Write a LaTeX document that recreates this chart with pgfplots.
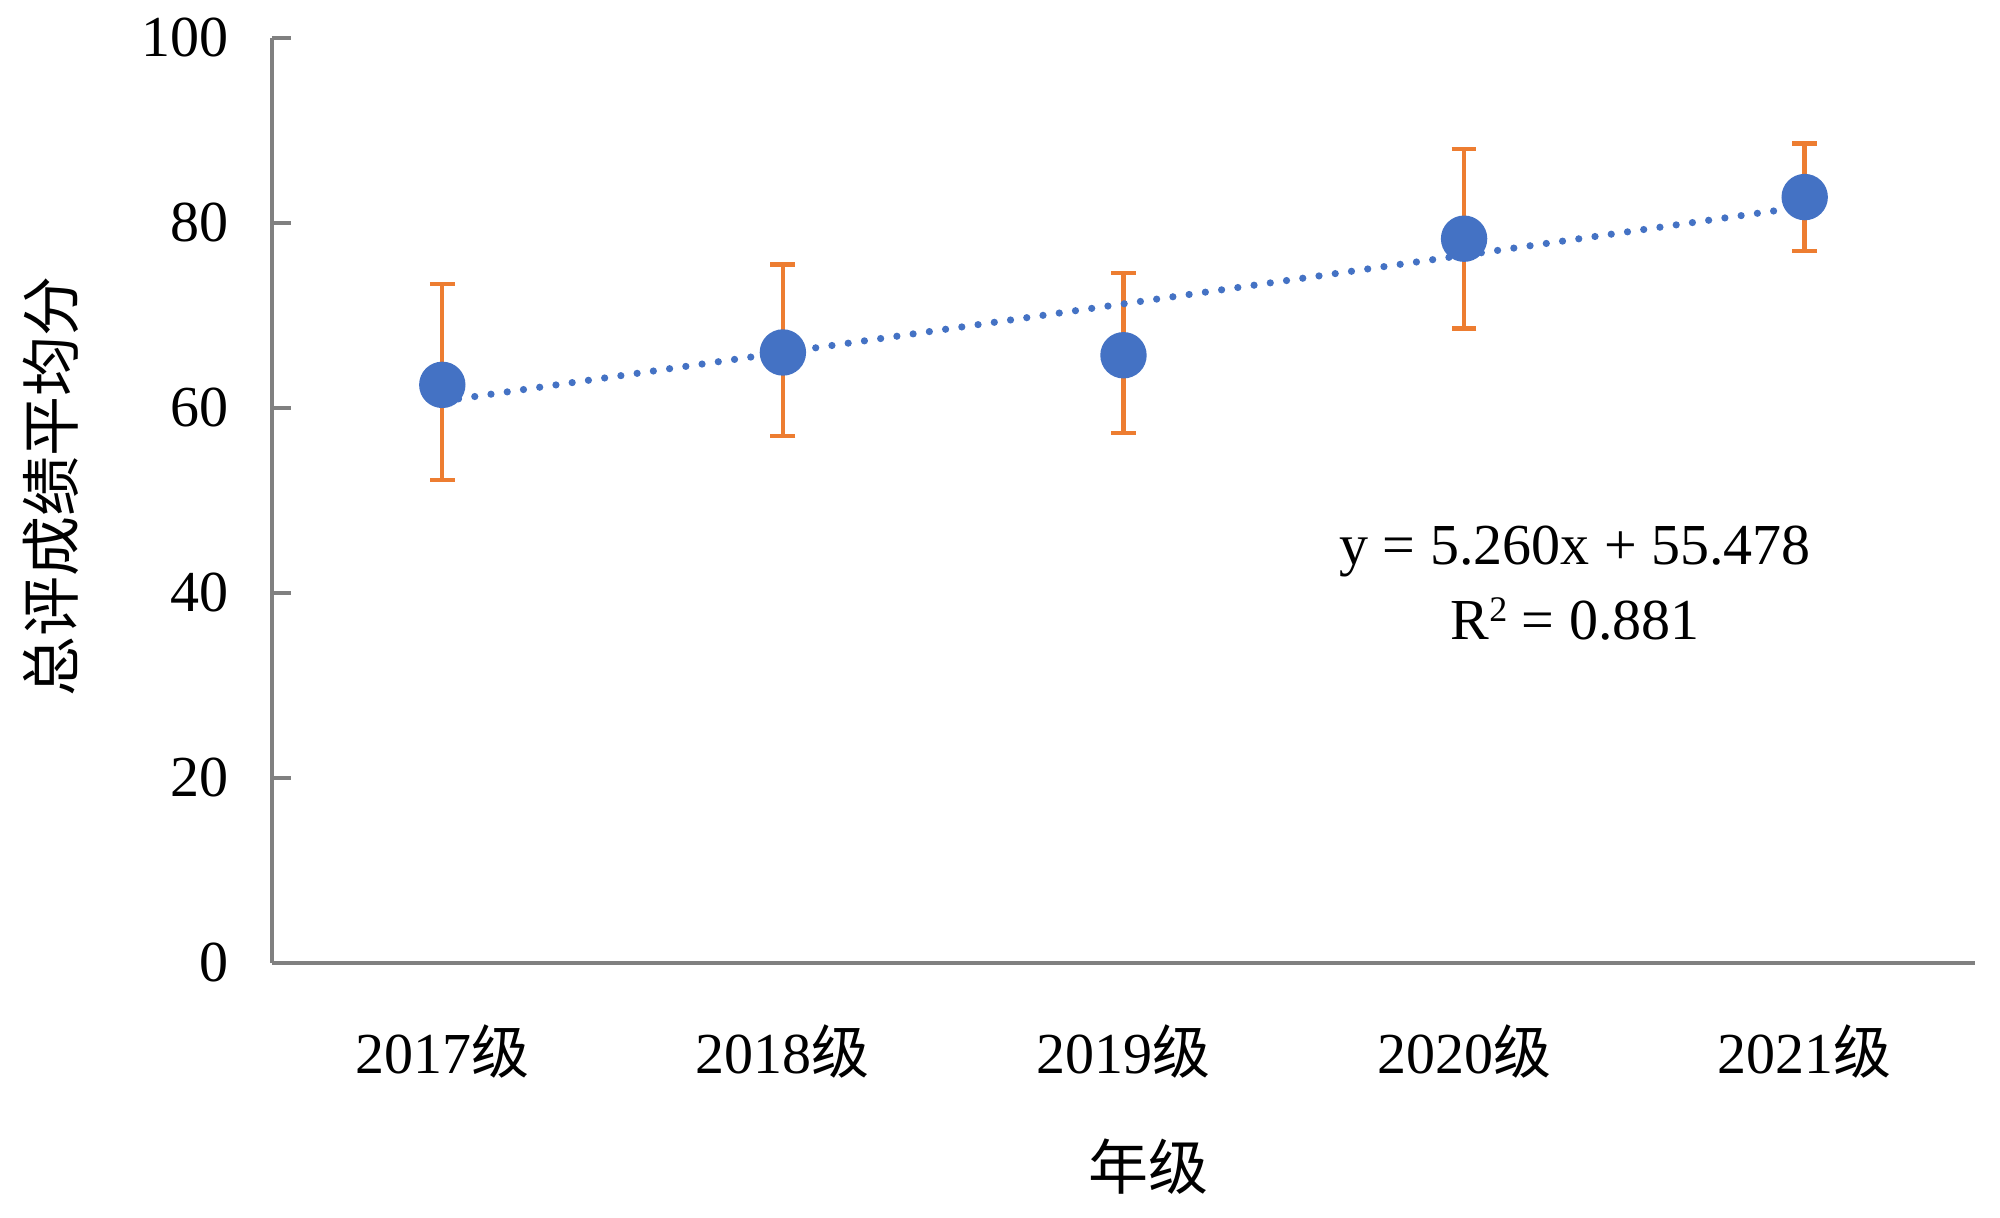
\documentclass[border=0pt]{standalone}
\usepackage{fontspec}
\setmainfont{Liberation Serif}
\newfontfamily\cjk{Noto Sans CJK SC}
\usepackage{pgfplots}
\pgfplotsset{compat=1.18}
\definecolor{ptblue}{HTML}{4472C4}
\definecolor{errorange}{HTML}{ED7D31}
\definecolor{axgray}{HTML}{808080}
\begin{document}
\begin{tikzpicture}
\path[use as bounding box] (-68pt,-63.75pt) rectangle (432pt,240.75pt);
\begin{axis}[
  scale only axis, width=425.75pt, height=231.25pt,
  at={(0,0)}, anchor=south west,
  xmin=0.5, xmax=5.5, ymin=0, ymax=100,
  axis x line*=bottom, axis y line*=left,
  axis line style={axgray, line width=0.8pt},
  xtick={1,2,3,4,5},
  xticklabels={2017{\cjk 级},2018{\cjk 级},2019{\cjk 级},2020{\cjk 级},2021{\cjk 级}},
  major x tick style={draw=none},
  ytick={0,20,40,60,80,100},
  major y tick style={axgray, line width=0.8pt},
  tick align=inside, major tick length=4.8pt,
  /pgf/number format/assume math mode=true,
  tick label style={font=\fontsize{14.5}{17}\selectfont, text=black},
  xticklabel style={anchor=center, yshift=-22pt},
  yticklabel style={xshift=-7.4pt},
  clip=false,
]
\addplot[draw=none, mark=none, forget plot,
  error bars/.cd, y dir=both, y explicit,
  error bar style={errorange, line width=1.1pt},
  error mark options={errorange, line width=1.1pt, rotate=90, mark size=3.1pt}]
  table[x=x, y=y, y error plus=ep, y error minus=em] {
x y ep em
1 62.5 10.9 10.3
2 66.0 9.5 9.0
3 65.7 8.9 8.4
4 78.3 9.7 9.7
5 82.8 5.8 5.8
};
\addplot[ptblue, line width=1.8pt, line cap=round, dash pattern=on 0pt off 4.1pt, forget plot]
  coordinates {(1,60.738) (5,81.778)};
\addplot[only marks, mark=*, mark size=5.6pt, mark options={fill=ptblue, draw=ptblue}]
  coordinates {(1,62.5) (2,66.0) (3,65.7) (4,78.3) (5,82.8)};
\node[align=center, font=\fontsize{14.5}{18.75}\selectfont] at (axis cs:4.326,41.1)
  {y = 5.260x + 55.478\\R{\fontsize{9}{10}\selectfont\raisebox{4.5pt}{2}} = 0.881};
\end{axis}
\node[rotate=90, font=\cjk\fontsize{15}{18}\selectfont] at (-55.25pt,119pt) {总评成绩平均分};
\node[font=\cjk\fontsize{15}{18}\selectfont] at (219pt,-51pt) {年级};
\end{tikzpicture}
\end{document}
